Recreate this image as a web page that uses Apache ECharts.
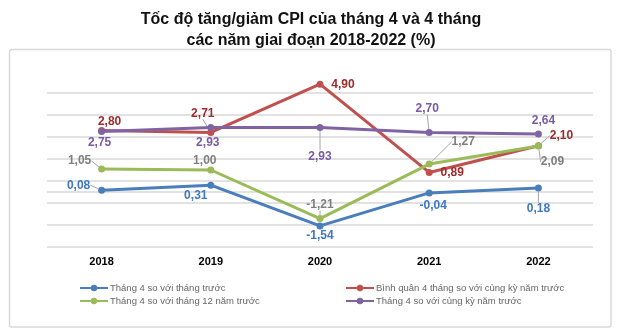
<!DOCTYPE html>
<html>
<head>
<meta charset="utf-8">
<script src="https://cdn.jsdelivr.net/npm/echarts@6/dist/echarts.min.js"></script>
<style>html,body{margin:0;padding:0;background:#fff}#c{width:620px;height:332px}</style>
</head>
<body>
<div id="c"></div>
<script>
// ---- data ----
var years = ['2018', '2019', '2020', '2021', '2022'];
var seriesNames = [
  'Tháng 4 so với tháng trước',
  'Bình quân 4 tháng so với cùng kỳ năm trước',
  'Tháng 4 so với tháng 12 năm trước',
  'Tháng 4 so với cùng kỳ năm trước'
];
var monthOverPrev = [0.08, 0.31, -1.54, -0.04, 0.18];
var avg4Months = [2.80, 2.71, 4.90, 0.89, 2.10];
var monthOverDec = [1.05, 1.00, -1.21, 1.27, 2.09];
var monthOverYear = [2.75, 2.93, 2.93, 2.70, 2.64];
var gridValues = [-2.5, -1.5, -0.5, 0, 0.5, 1.5, 2.5, 3.5, 4.5];

// ---- label layout (offsets from point, leader-line flags) ----
var labelOffsets = [
  [[-23,-5],[-15,11],[0,10],[4,13],[0,21]],
  [[8,-9],[-8,-19],[23,0],[23,0],[23,-10]],
  [[-22,-8],[-6,-9],[0,-14],[34,-22],[14,16]],
  [[-2,11],[-3,15],[0,29],[-2,-24],[5,-13]]
];
var leaderFlags = [
  [1,0,0,0,1],
  [0,1,0,0,1],
  [1,0,1,1,1],
  [0,0,1,1,0]
];
var lineColors = ['#4a7ebb', '#c0504d', '#9bbb59', '#8064a2'];
var labelColors = ['#3f78c0', '#9e2a2b', '#7f7f7f', '#7a5aa6'];
var FONT = "'Liberation Sans', Arial, sans-serif";

function fmt(v) { return v.toFixed(2).replace('.', ','); }

function buildSeries(idx, values) {
  var data = values.map(function (v, i) {
    return { value: v, labelLine: { show: !!leaderFlags[idx][i] } };
  });
  var s = {
    name: seriesNames[idx],
    type: 'line',
    data: data,
    clip: false,
    z: 3 + idx,
    symbol: 'circle',
    symbolSize: 7,
    lineStyle: { width: 3, color: lineColors[idx] },
    itemStyle: { color: lineColors[idx] },
    label: {
      show: true,
      position: 'inside',
      formatter: function (p) { return fmt(p.value); },
      color: labelColors[idx],
      fontFamily: FONT,
      fontSize: 12,
      fontWeight: 'bold'
    },
    labelLine: { show: false, lineStyle: { color: '#a6a6a6', width: 1 } },
    labelLayout: function (p) {
      var off = labelOffsets[idx][p.dataIndex];
      return {
        x: p.rect.x + p.rect.width / 2 + off[0],
        y: p.rect.y + p.rect.height / 2 + off[1],
        align: 'center',
        verticalAlign: 'middle'
      };
    },
    emphasis: { disabled: true },
    animation: false
  };
  if (idx === 0) {
    s.markLine = {
      silent: true,
      z: 1,
      symbol: 'none',
      label: { show: false },
      lineStyle: { color: '#d9d9d9', width: 1.5, type: 'solid' },
      data: gridValues.map(function (g) { return { yAxis: g }; }),
      animation: false
    };
  }
  return s;
}

var chart = echarts.init(document.getElementById('c'), null, { renderer: 'canvas' });
chart.setOption({
  animation: false,
  backgroundColor: '#fff',
  title: {
    text: 'Tốc độ tăng/giảm CPI của tháng 4 và 4 tháng\ncác năm giai đoạn 2018-2022 (%)',
    left: 306,
    top: 4,
    textAlign: 'center',
    textStyle: { fontFamily: FONT, fontSize: 16, fontWeight: 'bold', lineHeight: 21, color: '#111' }
  },
  graphic: [{
    type: 'rect',
    z: -1,
    shape: { x: 9.5, y: 49.5, width: 601.5, height: 277.5, r: 2 },
    style: { fill: 'none', stroke: '#d9d9d9', lineWidth: 1.5 }
  }],
  legend: [{
    left: 79, top: 283, orient: 'vertical', padding: 0,
    itemWidth: 28, itemHeight: 8, itemGap: 3,
    data: [seriesNames[0], seriesNames[2]],
    textStyle: { fontFamily: FONT, fontSize: 9.5, color: '#666', padding: [0, 0, 0, -3] }
  }, {
    left: 345, top: 283, orient: 'vertical', padding: 0,
    itemWidth: 28, itemHeight: 8, itemGap: 3,
    data: [seriesNames[1], seriesNames[3]],
    textStyle: { fontFamily: FONT, fontSize: 9.5, color: '#666', padding: [0, 0, 0, -3] }
  }],
  grid: { left: 47, right: 27, top: 93, bottom: 85 },
  xAxis: {
    type: 'category',
    data: years,
    boundaryGap: true,
    axisLine: { show: false },
    axisTick: { show: false },
    axisLabel: { margin: 9, fontFamily: FONT, fontSize: 11, fontWeight: 'bold', color: '#000' }
  },
  yAxis: {
    type: 'value',
    min: -2.5,
    max: 4.5,
    splitLine: { show: false },
    axisLine: { show: false },
    axisTick: { show: false },
    axisLabel: { show: false }
  },
  series: [
    buildSeries(0, monthOverPrev),
    buildSeries(1, avg4Months),
    buildSeries(2, monthOverDec),
    buildSeries(3, monthOverYear)
  ]
});
</script>
</body>
</html>
